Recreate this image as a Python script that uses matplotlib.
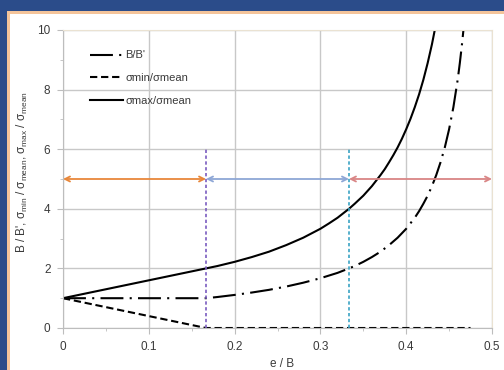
import matplotlib
matplotlib.use("Agg")
import matplotlib.pyplot as plt
from matplotlib.patches import Rectangle
from matplotlib.ticker import MultipleLocator

# Data
e_max = [0.0, 0.05, 0.1, 0.1667, 0.18, 0.2, 0.22, 0.24, 0.26, 0.28, 0.3, 0.31,
         0.32, 0.3333, 0.34, 0.35, 0.36, 0.37, 0.375, 0.38, 0.385, 0.39, 0.395,
         0.40, 0.405, 0.41, 0.415, 0.42, 0.425, 0.43, 0.4333]
sigma_max = [1.0, 1.3, 1.6, 2.0, 2.08, 2.22, 2.38, 2.56, 2.78, 3.03, 3.33, 3.51,
             3.70, 4.0, 4.17, 4.44, 4.76, 5.13, 5.33, 5.56, 5.80, 6.06, 6.35,
             6.67, 7.02, 7.41, 7.84, 8.33, 8.89, 9.52, 10.0]

e_bb = [0.0, 0.1667, 0.18, 0.2, 0.22, 0.24, 0.26, 0.28, 0.3, 0.32, 0.3333, 0.34,
        0.35, 0.36, 0.37, 0.38, 0.39, 0.40, 0.41, 0.415, 0.42, 0.425, 0.43, 0.435,
        0.44, 0.445, 0.45, 0.455, 0.46, 0.4625, 0.465, 0.4667]
b_ratio = [1.0, 1.0, 1.04, 1.11, 1.19, 1.28, 1.39, 1.52, 1.67, 1.85, 2.0, 2.08,
           2.22, 2.38, 2.56, 2.78, 3.03, 3.33, 3.70, 3.92, 4.17, 4.44, 4.76, 5.13,
           5.56, 6.06, 6.67, 7.41, 8.33, 8.89, 9.52, 10.0]

e_min = [0.0, 0.1667, 0.475]
sigma_min = [1.0, 0.0, 0.0]

zone_bounds = [0.0, 0.1667, 0.3333, 0.5]
zone_colors = ["#E8873A", "#8EA7D6", "#D98585"]
vline_x = [0.1667, 0.3333]
vline_colors = ["#7A5CC0", "#3AA3C4"]
arrow_y = 5
vline_top = 6

legend_labels = ["B/B'", "σmin/σmean", "σmax/σmean"]

plt.rcParams['font.family'] = ['Liberation Sans', 'DejaVu Sans']
plt.rcParams['mathtext.fontset'] = 'custom'
plt.rcParams['mathtext.rm'] = 'Liberation Sans'
plt.rcParams['mathtext.it'] = 'Liberation Sans'

fig = plt.figure(figsize=(5.04, 3.70), dpi=100)
fig.patch.set_facecolor("#2B4C8A")
# peach border and white panel
fig.add_artist(Rectangle((7/504, 0), 1, 1 - 11/370, transform=fig.transFigure,
                         facecolor="#F4C49A", edgecolor="none", zorder=0))
fig.add_artist(Rectangle((10/504, 0), 1, 1 - 14/370, transform=fig.transFigure,
                         facecolor="white", edgecolor="none", zorder=0))

ax = fig.add_axes([63/504, 42/370, (492-63)/504, (328-30)/370])
ax.set_facecolor("white")
ax.set_zorder(2)

ax.plot(e_bb, b_ratio, color="black", lw=1.5, dashes=(11, 3, 1, 3), label=legend_labels[0])
ax.plot(e_min, sigma_min, color="black", lw=1.5, dashes=(3.5, 1.8), label=legend_labels[1])
ax.plot(e_max, sigma_max, color="black", lw=1.5, label=legend_labels[2])

for x, c in zip(vline_x, vline_colors):
    ax.plot([x, x], [0, vline_top], color=c, lw=1.2, dashes=(2, 1.5))

for i, c in enumerate(zone_colors):
    ax.annotate("", xy=(zone_bounds[i+1], arrow_y), xytext=(zone_bounds[i], arrow_y),
                arrowprops=dict(arrowstyle="<->", color=c, lw=1.3,
                                shrinkA=0, shrinkB=0, mutation_scale=9))

ax.set_xlim(0, 0.5)
ax.set_ylim(0, 10)
ax.xaxis.set_minor_locator(MultipleLocator(0.05))
ax.yaxis.set_major_locator(MultipleLocator(2))
ax.yaxis.set_minor_locator(MultipleLocator(1))
ax.set_xticks([0, 0.1, 0.2, 0.3, 0.4, 0.5])
ax.set_xticklabels(["0", "0.1", "0.2", "0.3", "0.4", "0.5"])
ax.grid(True, which="major", color="#C8C8C8", lw=1)
ax.set_axisbelow(True)
for s in ["left", "bottom"]:
    ax.spines[s].set_color("#BDBDBD")
for s in ["top", "right"]:
    ax.spines[s].set_color("#EAE2D2")
ax.tick_params(which="major", length=4, color="#BDBDBD", labelsize=8.5,
               labelcolor="#3A3A3A", pad=5)
ax.tick_params(which="minor", length=2, color="#BDBDBD")

ax.set_xlabel("e / B", fontsize=8.5, color="#3A3A3A")
ax.xaxis.set_label_coords(0.51, -0.1)
ax.set_ylabel(r"B / B', $\sigma_{\rm min}$ / $\sigma_{\rm mean}$, $\sigma_{\rm max}$ / $\sigma_{\rm mean}$",
              fontsize=8.5, color="#3A3A3A")
ax.yaxis.set_label_coords(-0.077, 0.523)

leg = ax.legend(loc="upper left", frameon=False, fontsize=8, handlelength=3.0,
                handletextpad=0.15, labelspacing=1.15, bbox_to_anchor=(0.04, 0.965))
for t in leg.get_texts():
    t.set_color("#3A3A3A")

fig.savefig("out.png", dpi=100, facecolor=fig.get_facecolor())
